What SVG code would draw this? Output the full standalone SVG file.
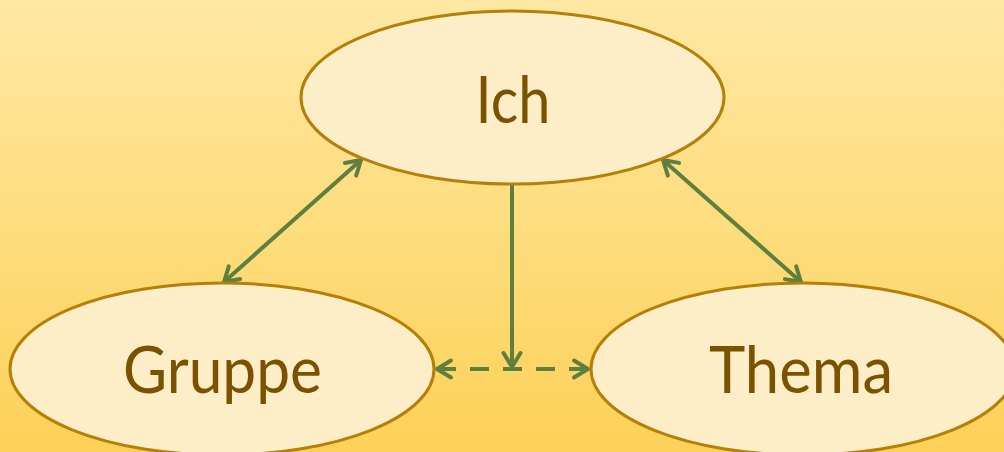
<svg xmlns="http://www.w3.org/2000/svg" width="1004" height="452" viewBox="0 0 1004 452">
  <defs>
    <linearGradient id="bg" x1="0" y1="0" x2="0" y2="1">
      <stop offset="0" stop-color="#FEE8A3"/>
      <stop offset="1" stop-color="#FDD158"/>
    </linearGradient>
    <marker id="arr" markerUnits="userSpaceOnUse" viewBox="-20 -12 24 24" refX="0" refY="0" markerWidth="24" markerHeight="24" orient="auto-start-reverse" overflow="visible">
      <path d="M-14,-8.5 L0,0 L-14,8.5" fill="none" stroke="#5F7F3F" stroke-width="4" stroke-linecap="round" stroke-linejoin="round"/>
    </marker>
    <style>
      .node ellipse { fill: #FEEEC8; stroke: #B57F08; stroke-width: 3; }
      .node text { font-family: "Lato", "Open Sans", "Liberation Sans", sans-serif; font-size: 66px; fill: #7A5200; text-anchor: middle; }
      .conn line { stroke: #5F7F3F; stroke-width: 4; fill: none; }
      .dash { stroke-dasharray: 19 14; }
    </style>
  </defs>
  <rect x="0" y="0" width="1004" height="452" fill="url(#bg)"/>
  <g id="connectors" class="conn">
    <line x1="224" y1="282" x2="361" y2="160" marker-start="url(#arr)" marker-end="url(#arr)"/>
    <line x1="663" y1="160" x2="801" y2="282" marker-start="url(#arr)" marker-end="url(#arr)"/>
    <line x1="512" y1="184" x2="512" y2="367" marker-end="url(#arr)"/>
    <line class="dash" x1="437" y1="369" x2="588" y2="369" marker-start="url(#arr)" marker-end="url(#arr)"/>
  </g>
  <g id="node-ich" class="node">
    <ellipse cx="512.5" cy="97.5" rx="211.5" ry="86.5"/>
    <text x="513" y="123" textLength="75" lengthAdjust="spacingAndGlyphs">Ich</text>
  </g>
  <g id="node-gruppe" class="node">
    <ellipse cx="222" cy="369" rx="212" ry="86"/>
    <text x="222.5" y="393" textLength="199" lengthAdjust="spacingAndGlyphs">Gruppe</text>
  </g>
  <g id="node-thema" class="node">
    <ellipse cx="803" cy="369" rx="212" ry="86"/>
    <text x="801" y="393" textLength="184" lengthAdjust="spacingAndGlyphs">Thema</text>
  </g>
</svg>
